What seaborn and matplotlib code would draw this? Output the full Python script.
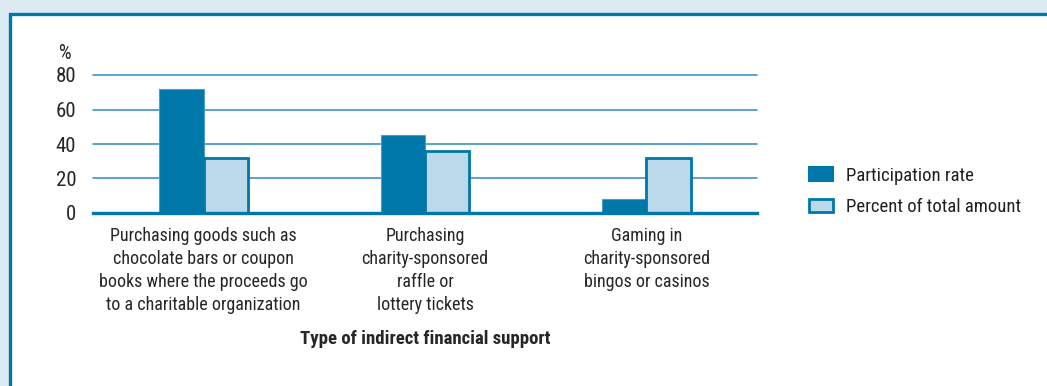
import matplotlib
matplotlib.use("Agg")
import matplotlib.pyplot as plt
from matplotlib import font_manager
from matplotlib.patches import Rectangle, Patch
import seaborn as sns
import pandas as pd

# Data
categories = [
    "Purchasing goods such as\nchocolate bars or coupon\nbooks where the proceeds go\nto a charitable organization",
    "Purchasing\ncharity-sponsored\nraffle or\nlottery tickets",
    "Gaming in\ncharity-sponsored\nbingos or casinos",
]
series_names = ["Participation rate", "Percent of total amount"]
participation_rate = [72, 45, 8]
percent_of_total = [32, 36, 32]
y_ticks = [0, 20, 40, 60, 80]
x_title = "Type of indirect financial support"
y_unit = "%"

DARK = "#0077a9"
LIGHT = "#bad9ea"
GRID = "#2f89bd"
BG = "#dceaf3"

sns.set_theme(style="white")
available = {f.name for f in font_manager.fontManager.ttflist}
family = [f for f in ["Liberation Sans Narrow", "Roboto Condensed", "DejaVu Sans Condensed",
                      "Liberation Sans", "DejaVu Sans"] if f in available]
plt.rcParams["font.family"] = family + ["DejaVu Sans"]
plt.rcParams["text.color"] = "#231f20"

df = pd.DataFrame({
    "category": categories * 2,
    "series": [series_names[0]] * 3 + [series_names[1]] * 3,
    "value": participation_rate + percent_of_total,
})

fig = plt.figure(figsize=(10.47, 3.86), dpi=100)
fig.patch.set_facecolor(BG)

# white panel with blue border running off the right and bottom edges
W, H = 1047, 386
fig.patches.append(Rectangle((9.5 / W, -0.1), 1.2, 1 - 13.5 / H + 0.1,
                             transform=fig.transFigure, facecolor="white",
                             edgecolor=DARK, linewidth=2.4, zorder=-5))

ax = fig.add_axes([93 / W, 1 - 213 / H, (757 - 93) / W, (213 - 75) / H])
ax.set_facecolor("none")

sns.barplot(data=df, x="category", y="value", hue="series",
            palette=[DARK, LIGHT], width=0.4, gap=0, ax=ax,
            legend=False, saturation=1, zorder=3)

for i, bar in enumerate(ax.patches):
    if i < 3:
        bar.set_edgecolor("#4d9cc9")
        bar.set_linewidth(0.8)
    else:
        bar.set_edgecolor(DARK)
        bar.set_linewidth(2.0)

ax.set_xlim(-0.5, 2.5)
ax.set_ylim(0, 80)
ax.set_yticks(y_ticks)
ax.set_yticklabels([str(t) for t in y_ticks], fontsize=15)
ax.yaxis.grid(True, color=GRID, linewidth=1.1, zorder=0)
for gl in ax.get_ygridlines():
    gl.set_clip_on(False)
ax.set_axisbelow(True)
for s in ["top", "right", "left"]:
    ax.spines[s].set_visible(False)
ax.spines["bottom"].set_color(DARK)
ax.spines["bottom"].set_linewidth(2.4)
ax.spines["bottom"].set_zorder(4)
ax.tick_params(axis="y", length=0, pad=12)
ax.tick_params(axis="x", length=0, pad=10)
ax.set_xticks(range(len(categories)))
ax.set_xticklabels(categories, fontsize=13, linespacing=1.35)
ax.set_ylabel("")
ax.set_xlabel(x_title, fontsize=13.5, fontweight="bold", labelpad=12)

ax.text(-0.042, 1.116, y_unit, transform=ax.transAxes, fontsize=14.5,
        ha="center", va="baseline")

handles = [Patch(facecolor=DARK, edgecolor=DARK, linewidth=1.5),
           Patch(facecolor=LIGHT, edgecolor=DARK, linewidth=2.0)]
fig.legend(handles, series_names, loc="upper left",
           bbox_to_anchor=(792 / W, 1 - 150 / H), frameon=False,
           fontsize=13.5, handlelength=1.3, handleheight=0.75,
           labelspacing=0.7, handletextpad=0.7)

fig.savefig("out.png", dpi=100, facecolor=fig.get_facecolor())
